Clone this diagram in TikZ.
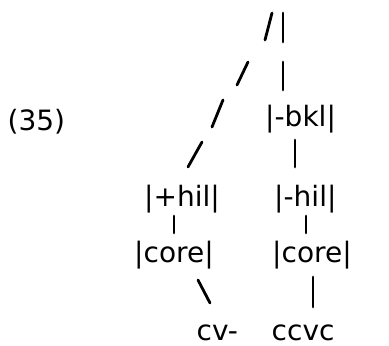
\documentclass[tikz,border=0pt]{standalone}
\usepackage{fontspec}
\setmainfont{DejaVu Sans}
\tikzset{
  lbl/.style={font=\fontsize{28}{30}\selectfont, inner sep=0pt, anchor=base west},
  stroke/.style={line width=2.8pt, line cap=round, black}
}
\begin{document}
\begin{tikzpicture}[x=1pt,y=-1pt]
\useasboundingbox (0,0) rectangle (389,346);
% labels
\node[lbl] (ex)    at (7.5,130) {(35)};
\node[lbl] (bkl)   at (265,126) {|-bkl|};
\node[lbl] (phil)  at (144,206) {|+hil|};
\node[lbl] (mhil)  at (274,206) {|-hil|};
\node[lbl] (core1) at (134,262) {|core|};
\node[lbl] (core2) at (272,262) {|core|};
\node[lbl] (cv)    at (196.5,340) {cv-};
\node[lbl] (ccvc)  at (271.5,340) {ccvc};
% tree strokes (typed marks)
\coordinate (a1) at (265,40);  \coordinate (a2) at (272,13);
\coordinate (b1) at (283,13);  \coordinate (b2) at (283,42);
\coordinate (c1) at (237,85);  \coordinate (c2) at (248,62);
\coordinate (d1) at (283,62);  \coordinate (d2) at (283,90);
\coordinate (e1) at (212,127); \coordinate (e2) at (223,100);
\coordinate (f1) at (188,167); \coordinate (f2) at (202,142);
\coordinate (g1) at (295,140); \coordinate (g2) at (295,167);
\coordinate (h1) at (174,216); \coordinate (h2) at (174,233);
\coordinate (i1) at (306,216); \coordinate (i2) at (306,233);
\coordinate (j1) at (198,280); \coordinate (j2) at (210,303);
\coordinate (k1) at (313,277); \coordinate (k2) at (313,307);
\foreach \p in {a,b,c,d,e,f,g,h,i,j,k}{
  \draw[stroke] (\p1) -- (\p2);
}
\end{tikzpicture}
\end{document}
